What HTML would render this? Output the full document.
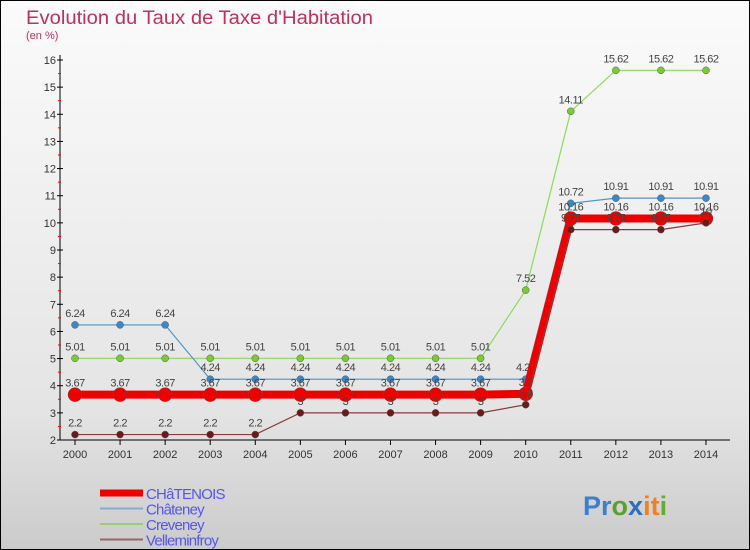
<!DOCTYPE html>
<html><head><meta charset="utf-8"><style>
body{margin:0;}
#wrap{width:750px;height:550px;position:relative;overflow:hidden;}
svg text{font-family:"Liberation Sans",sans-serif;}
</style></head><body>
<div id="wrap">
<svg id="svg" width="750" height="550" xmlns="http://www.w3.org/2000/svg">
<defs><linearGradient id="bg" x1="0" y1="0" x2="0" y2="1">
<stop offset="0" stop-color="#fbfbfb"/><stop offset="0.75" stop-color="#e4e4e4"/><stop offset="1" stop-color="#cbcbcb"/></linearGradient></defs>
<rect x="0.5" y="0.5" width="749" height="549" fill="url(#bg)" stroke="#000"/>
<text x="26" y="24" font-size="19" fill="#c0305c" textLength="347" lengthAdjust="spacingAndGlyphs">Evolution du Taux de Taxe d'Habitation</text>
<text x="26" y="39" font-size="11" fill="#c0305c">(en %)</text>
<g id="axes"></g><g id="series"></g><g id="legend"></g>
<text x="583" y="515" font-size="27" font-weight="bold"><tspan fill="#3a7fd0">Pr</tspan><tspan fill="#5aa02c">o</tspan><tspan fill="#2a6fc0">x</tspan><tspan fill="#f08020">it</tspan><tspan fill="#60b030">i</tspan></text>
</svg></div>
<script>
const years=[2000,2001,2002,2003,2004,2005,2006,2007,2008,2009,2010,2011,2012,2013,2014];
const chatenois=[3.67,3.67,3.67,3.67,3.67,3.67,3.67,3.67,3.67,3.67,3.7,10.16,10.16,10.16,10.16];
const chateney=[6.24,6.24,6.24,4.24,4.24,4.24,4.24,4.24,4.24,4.24,4.24,10.72,10.91,10.91,10.91];
const creveney=[5.01,5.01,5.01,5.01,5.01,5.01,5.01,5.01,5.01,5.01,7.52,14.11,15.62,15.62,15.62];
const velleminfroy=[2.2,2.2,2.2,2.2,2.2,3,3,3,3,3,3.3,9.75,9.75,9.75,10];
const yTicks=[2,3,4,5,6,7,8,9,10,11,12,13,14,15,16];
const NS="http://www.w3.org/2000/svg";
const X=i=>75+i*45.07, Y=v=>440-(v-2)*380/14;
function mk(t,a,p){const e=document.createElementNS(NS,t);for(const k in a)e.setAttribute(k,a[k]);p.appendChild(e);return e;}
const ax=document.getElementById('axes');
let l=mk('line',{x1:60,y1:55,x2:60,y2:440,stroke:'#000'},ax);


l=mk('line',{x1:60,y1:440,x2:730,y2:440,stroke:'#000'},ax);


yTicks.forEach(v=>{
 mk('line',{x1:57,y1:Y(v),x2:63,y2:Y(v),stroke:'#000'},ax);
 if(v<16)mk('line',{x1:58,y1:Y(v+0.5),x2:61,y2:Y(v+0.5),stroke:'#f00'},ax);
 const t=mk('text',{x:56,y:Y(v)+4,'font-size':11,fill:'#333','text-anchor':'end'},ax);t.textContent=v;
 
 
});
years.forEach((y,i)=>{
 mk('line',{x1:X(i),y1:440,x2:X(i),y2:445,stroke:'#000'},ax);
 const t=mk('text',{x:X(i),y:458,'font-size':11,fill:'#333','text-anchor':'middle'},ax);t.textContent=y;
 
 
});
const sg=document.getElementById('series');
function draw(name,data,color,w,r,fill){
 const g=mk('g',{},sg);
 
 
 mk('polyline',{points:data.map((v,i)=>X(i)+','+Y(v)).join(' '),fill:'none',stroke:color,'stroke-width':w},g);
 data.forEach((v,i)=>{
  const c=mk('circle',{cx:X(i),cy:Y(v),r:r,fill:fill,stroke:'#555','stroke-width':0.5},g);
  
  
  const t=mk('text',{x:X(i),y:Y(v)-8,'font-size':11,fill:'#444','text-anchor':'middle','letter-spacing':'-0.5'},g);
  t.textContent=String(v).replace(/^(\d+\.\d)0$/,'$1');
  
  
 });
}
draw('creveney',creveney,'#88dd55',1.2,3.5,'#77cc33');
draw('chateney',chateney,'#4d94c8',1.2,3.5,'#3a88cc');
draw('chatenois',chatenois,'#ee0000',8,7,'#ee0000');
draw('velleminfroy',velleminfroy,'#8a3a3a',1.2,3.5,'#6a1a1a');
const lg=document.getElementById('legend');
[['CHâTENOIS','#ee0000',7],['Châteney','#88aacc',2],['Creveney','#99cc77',2],['Velleminfroy','#996666',2]].forEach((d,i)=>{
 const g=mk('g',{},lg);
 
 
 const y=493+i*15.5;
 mk('line',{x1:100,y1:y,x2:143,y2:y,stroke:d[1],'stroke-width':d[2]},g);
 const t=mk('text',{x:146,y:y+6,'font-size':15,fill:'#5555ee','letter-spacing':'-0.8'},g);t.textContent=d[0];
});
</script></body></html>
